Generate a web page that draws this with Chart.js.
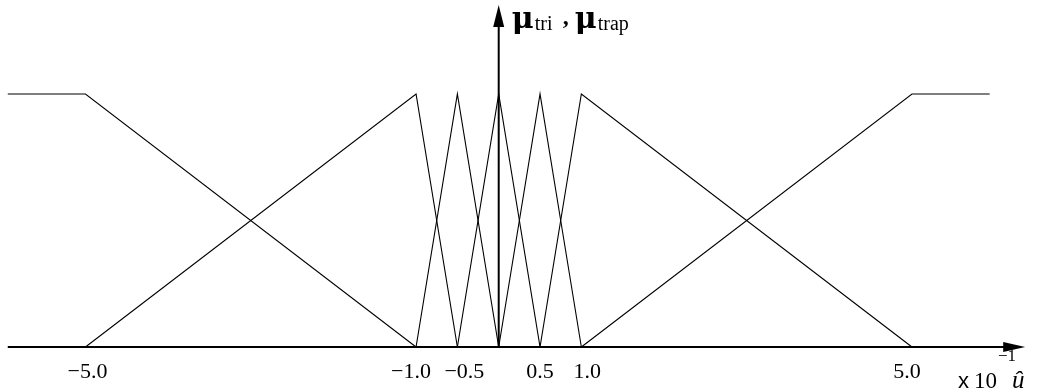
<!DOCTYPE html>
<html>
<head>
<meta charset="utf-8">
<script src="https://cdn.jsdelivr.net/npm/chart.js@4"></script>
<style>
  html, body { margin: 0; padding: 0; background: #fff; }
  #wrap { width: 1038px; height: 389px; }
</style>
</head>
<body>
<div id="wrap"><canvas id="chart" width="1038" height="389"></canvas></div>
<script>
// membership function break points (u in units of 10^-1)
const trapLeftX = [-5.94, -5.0, -1.0];
const trapLeftY = [1, 1, 0];
const triLeftX = [-5.0, -1.0, -0.5];
const triNegHalfX = [-1.0, -0.5, 0.0];
const triZeroX = [-0.5, 0.0, 0.5];
const triPosHalfX = [0.0, 0.5, 1.0];
const triRightX = [0.5, 1.0, 5.0];
const triY = [0, 1, 0];
const trapRightX = [1.0, 5.0, 5.94];
const trapRightY = [0, 1, 1];

// tick labels on the u axis
const tickValues = [-5.0, -1.0, -0.5, 0.5, 1.0, 5.0];
const tickLabels = ['\u22125.0', '\u22121.0', '\u22120.5', '0.5', '1.0', '5.0'];

// axis extents
const axisStartX = -5.94;
const axisEndX = 6.37;
const axisTopY = 1.352;

function toPoints(xs, ys) {
    let pts = [];
    for (let i = 0; i < xs.length; i++) {
        pts.push({ x: xs[i], y: ys[i] });
    }
    return pts;
}

let shapes = [
    toPoints(trapLeftX, trapLeftY),
    toPoints(triLeftX, triY),
    toPoints(triNegHalfX, triY),
    toPoints(triZeroX, triY),
    toPoints(triPosHalfX, triY),
    toPoints(triRightX, triY),
    toPoints(trapRightX, trapRightY)
];

let datasets = shapes.map(function (pts) {
    return {
        data: pts,
        borderColor: '#000',
        borderWidth: 1.1,
        pointRadius: 0,
        fill: false,
        tension: 0
    };
});

// draws the arrow axes and all text
const axesPlugin = {
    id: 'arrowAxes',
    afterDatasetsDraw(chart) {
        const ctx = chart.ctx;
        const xs = chart.scales.x;
        const ys = chart.scales.y;
        const y0 = ys.getPixelForValue(0);
        const x0 = xs.getPixelForValue(0);
        const xStart = xs.getPixelForValue(axisStartX);
        const xEnd = xs.getPixelForValue(axisEndX);
        const yTop = ys.getPixelForValue(axisTopY);

        ctx.save();
        ctx.strokeStyle = '#000';
        ctx.fillStyle = '#000';
        ctx.lineWidth = 2;

        // horizontal axis
        ctx.beginPath();
        ctx.moveTo(xStart, y0);
        ctx.lineTo(xEnd - 18, y0);
        ctx.stroke();
        ctx.beginPath();
        ctx.moveTo(xEnd, y0);
        ctx.lineTo(xEnd - 22, y0 - 5);
        ctx.lineTo(xEnd - 22, y0 + 5);
        ctx.closePath();
        ctx.fill();

        // vertical axis
        ctx.beginPath();
        ctx.moveTo(x0, y0);
        ctx.lineTo(x0, yTop + 18);
        ctx.stroke();
        ctx.beginPath();
        ctx.moveTo(x0, yTop);
        ctx.lineTo(x0 - 5.5, yTop + 22);
        ctx.lineTo(x0 + 5.5, yTop + 22);
        ctx.closePath();
        ctx.fill();

        // tick labels (nudged like the original to avoid crowding)
        const nudge = [2, -5, 7, 0, 6, -5];
        ctx.font = '22px "Liberation Serif"';
        ctx.textAlign = 'center';
        ctx.textBaseline = 'alphabetic';
        for (let i = 0; i < tickValues.length; i++) {
            let px = xs.getPixelForValue(tickValues[i]) + nudge[i];
            ctx.fillText(tickLabels[i], px, y0 + 31);
        }

        // x10^-1 u-hat
        ctx.textAlign = 'left';
        ctx.font = '22px "Liberation Sans"';
        ctx.fillText('x', 958, 388);
        ctx.font = '23px "Liberation Serif"';
        ctx.fillText('10', 974, 388);
        ctx.font = '17px "Liberation Serif"';
        ctx.fillText('\u22121', 998, 361);
        ctx.font = 'italic 25px "Liberation Serif"';
        ctx.fillText('\u00fb', 1012, 388);

        // mu_tri , mu_trap
        ctx.font = 'bold 30px "DejaVu Serif"';
        ctx.fillText('\u03bc', x0 + 13, 28);
        ctx.font = '20px "Liberation Serif"';
        ctx.fillText('tri', x0 + 36, 30);
        ctx.font = 'bold 24px "Liberation Serif"';
        ctx.fillText(',', x0 + 64, 24);
        ctx.font = 'bold 30px "DejaVu Serif"';
        ctx.fillText('\u03bc', x0 + 76, 28);
        ctx.font = '20px "Liberation Serif"';
        ctx.fillText('trap', x0 + 99, 30);

        ctx.restore();
    }
};

const ctx = document.getElementById('chart').getContext('2d');

let chart = new Chart(ctx, {
    type: 'line',
    data: { datasets: datasets },
    options: {
        responsive: false,
        animation: false,
        layout: { padding: 0 },
        plugins: {
            legend: { display: false },
            tooltip: { enabled: false }
        },
        scales: {
            x: { type: 'linear', min: -6.034, max: 6.525, display: false },
            y: { type: 'linear', min: -0.166, max: 1.3715, display: false }
        }
    },
    plugins: [axesPlugin]
});
</script>
</body>
</html>
